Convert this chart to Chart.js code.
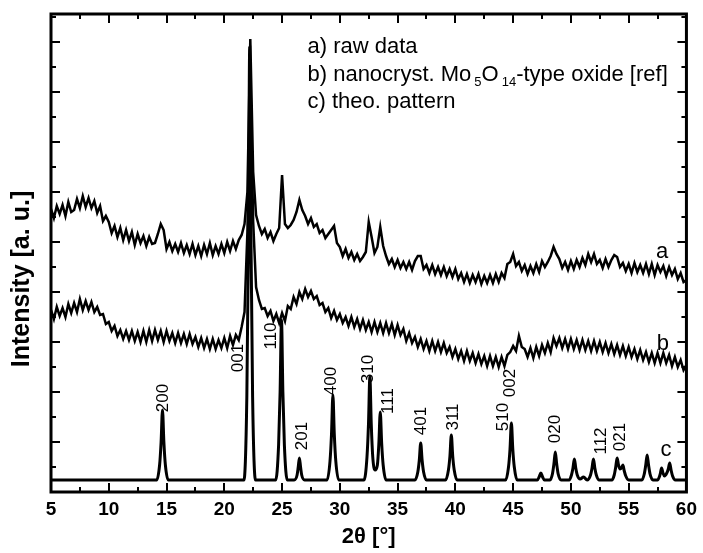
<!DOCTYPE html>
<html>
<head>
<meta charset="utf-8">
<script src="https://cdn.jsdelivr.net/npm/chart.js@4.4.1/dist/chart.umd.min.js"></script>
<style>
  html, body { margin: 0; padding: 0; background: #fff; }
</style>
</head>
<body>
<canvas id="xrd" width="703" height="553"></canvas>
<script>
// sampling of the measured scans (2theta, degrees)
const scanStart = 5
const scanStep = 0.25

// a) raw data, one value per 0.25 deg from 5 to 60
const rawData = [
  283, 274, 286, 278,  287, 276, 290, 280,  282, 293, 284, 296,  285, 294, 284, 291,
  279, 286, 271, 276,  270, 259, 266, 255,  264, 252, 262, 251,  260, 247, 258, 249,
  256, 246, 255, 248,  249, 258, 268, 262,  243, 250, 241, 248,  240, 249, 239, 247,
  238, 248, 237, 246,  236, 247, 238, 249,  237, 246, 238, 248,  239, 250, 241, 251,
  243, 252, 257, 268,  300, 453, 320, 277,  266, 258, 263, 254,  260, 251, 258, 264,
  317, 268, 264, 267,  272, 280, 292, 282,  276, 268, 274, 265,  268, 259, 262, 254,
  258, 262, 266, 249,  245, 236, 243, 234,  240, 232, 238, 231,  235, 240, 270, 255,
  239, 245, 265, 246,  236, 228, 233, 225,  232, 224, 230, 223,  230, 222, 231, 236,
  236, 223, 227, 219,  227, 218, 225, 217,  225, 216, 223, 215,  223, 213, 219, 210,
  218, 209, 217, 210,  218, 208, 216, 209,  217, 209, 218, 210,  219, 214, 228, 230,
  238, 226, 230, 221,  227, 218, 226, 219,  228, 220, 231, 225,  230, 236, 245, 238,
  233, 224, 230, 222,  231, 223, 232, 225,  234, 227, 238, 230,  238, 228, 232, 224,
  233, 225, 232, 237,  235, 225, 229, 221,  228, 219, 229, 220,  227, 219, 228, 218,
  228, 217, 227, 220,  226, 216, 225, 217,  223, 213, 219, 210,  212
]

// b) nanocryst. Mo5O14-type oxide [ref], same sampling
const refData = [
  182, 173, 185, 176,  184, 175, 188, 179,  189, 180, 193, 182,  191, 182, 190, 180,
  185, 177, 178, 168,  170, 161, 166, 156,  162, 153, 161, 152,  161, 151, 160, 150,
  161, 150, 162, 151,  162, 152, 161, 150,  161, 151, 159, 149,  159, 149, 158, 148,
  158, 148, 155, 145,  154, 144, 153, 143,  153, 143, 152, 144,  154, 144, 156, 147,
  157, 152, 165, 180,  260, 420, 270, 205,  192, 183, 184, 176,  181, 171, 178, 169,
  179, 171, 186, 183,  195, 188, 200, 193,  203, 195, 201, 193,  196, 187, 189, 180,
  184, 174, 181, 172,  178, 169, 175, 166,  175, 165, 173, 163,  172, 162, 170, 160,
  170, 160, 169, 159,  169, 159, 168, 157,  167, 157, 163, 151,  159, 149, 155, 145,
  153, 143, 151, 141,  151, 141, 150, 140,  149, 139, 145, 135,  143, 133, 141, 131,
  141, 131, 139, 129,  138, 128, 136, 126,  136, 126, 135, 125,  135, 126, 137, 140,
  146, 141, 156, 145,  143, 135, 144, 134,  145, 136, 147, 139,  149, 140, 154, 146,
  154, 144, 153, 143,  153, 143, 152, 142,  152, 142, 151, 141,  151, 141, 150, 140,
  149, 139, 148, 138,  147, 137, 146, 136,  145, 135, 143, 133,  142, 132, 140, 130,
  139, 129, 139, 129,  139, 129, 137, 126,  135, 125, 132, 122,  127
]

// c) theoretical pattern
const theoX = [
  5, 14.15, 14.4, 14.53, 14.65, 14.77, 14.9, 15.15,
  21.7, 21.95, 22.08, 22.2, 22.32, 22.45, 22.7,
  24.45, 24.7, 24.83, 24.95, 25.07, 25.2, 25.45,
  26.05, 26.3, 26.4, 26.5, 26.6, 26.7, 26.95,
  28.9, 29.15, 29.28, 29.4, 29.52, 29.65, 29.9,
  32.1, 32.35, 32.48, 32.6, 32.72, 32.85, 33.05, 33.25, 33.38, 33.5, 33.62, 33.75, 34.0,
  36.5, 36.75, 36.88, 37.0, 37.12, 37.25, 37.5,
  39.15, 39.4, 39.53, 39.65, 39.77, 39.9, 40.15,
  44.35, 44.6, 44.73, 44.85, 44.97, 45.1, 45.35,
  47.1, 47.25, 47.4, 47.55, 47.7,
  48.2, 48.4, 48.53, 48.65, 48.77, 48.9, 49.15,
  49.85, 50.05, 50.18, 50.3, 50.42, 50.55, 50.8, 51.1, 51.4,
  51.7, 51.83, 51.95, 52.07, 52.2, 52.45,
  53.55, 53.75, 53.88, 54.0, 54.12, 54.25, 54.38, 54.5, 54.62, 54.75, 55.0,
  56.15, 56.35, 56.48, 56.6, 56.72, 56.85, 57.1,
  57.5, 57.65, 57.75, 57.85, 57.97, 58.1, 58.3, 58.43, 58.55, 58.67, 58.8, 59.05, 60
]
const theoY = [
  12, 12, 27, 50, 82, 50, 27, 12,
  12, 95, 240, 445, 240, 95, 12,
  12, 47, 100, 172, 100, 47, 12,
  12, 17, 25, 34, 25, 17, 12,
  12, 31, 58, 97, 58, 31, 12,
  12, 35, 68, 115, 68, 35, 22, 27, 49, 80, 49, 27, 12,
  12, 20, 32, 49, 32, 20, 12,
  12, 22, 36, 57, 36, 22, 12,
  12, 25, 43, 69, 43, 25, 12,
  12, 15, 19, 15, 12,
  12, 18, 28, 40, 28, 18, 12,
  12, 17, 24, 33, 24, 17, 13, 15, 12,
  17, 24, 33, 24, 17, 12,
  12, 17, 25, 34, 27, 23, 24, 27, 21, 16, 12,
  12, 18, 27, 37, 27, 18, 12,
  12, 15, 19, 24, 19, 16, 19, 23, 29, 22, 16, 12, 12
]

// reflex indices, written upwards next to the peaks
const hklText = ["200", "001", "110", "201", "400", "310", "111", "401", "311", "510", "002", "020", "112", "021"]
const hklX = [14.69, 21.2, 24.1, 26.77, 29.26, 32.5, 34.2, 37.06, 39.8, 44.17, 44.77, 48.63, 52.66, 54.29]
const hklY = [94, 134, 156, 56, 111, 123, 91, 71, 75, 75, 109, 63, 51, 55]

// curve tags
const tagText = ["a", "b", "c"]
const tagX = [57.9, 57.97, 58.23]
const tagY = [240, 148, 42]

const fontFamily = "'Liberation Sans', Arial, Helvetica, sans-serif"

function toPoints(values) {
  return values.map((v, i) => ({ x: scanStart + i * scanStep, y: v }))
}

const decorations = {
  id: "decorations",
  afterDatasetsDraw(chart) {
    const { ctx, chartArea: area, scales: { x, y } } = chart
    ctx.save()
    ctx.strokeStyle = "#000"
    ctx.fillStyle = "#000"

    // inward ticks on all four sides
    ctx.lineWidth = 2
    ctx.beginPath()
    for (let v = 7.5; v < 60; v += 2.5) {
      const px = Math.round(x.getPixelForValue(v))
      const len = v % 5 === 0 ? 9 : 5
      ctx.moveTo(px, area.bottom); ctx.lineTo(px, area.bottom - len)
      ctx.moveTo(px, area.top); ctx.lineTo(px, area.top + len)
    }
    for (let v = 25; v < 478; v += 25) {
      const py = Math.round(y.getPixelForValue(v))
      const len = v % 50 === 0 ? 9 : 5
      ctx.moveTo(area.left, py); ctx.lineTo(area.left + len, py)
      ctx.moveTo(area.right, py); ctx.lineTo(area.right - len, py)
    }
    ctx.stroke()

    // frame
    ctx.lineWidth = 3
    ctx.strokeRect(area.left, area.top, area.right - area.left, area.bottom - area.top)

    // reflex labels
    ctx.font = "17px " + fontFamily
    ctx.textAlign = "center"
    ctx.textBaseline = "middle"
    hklText.forEach((t, i) => {
      ctx.save()
      ctx.translate(x.getPixelForValue(hklX[i]), y.getPixelForValue(hklY[i]))
      ctx.rotate(-Math.PI / 2)
      ctx.fillText(t, 0, 0)
      ctx.restore()
    })

    // curve tags
    ctx.font = "22px " + fontFamily
    tagText.forEach((t, i) => {
      ctx.fillText(t, x.getPixelForValue(tagX[i]), y.getPixelForValue(tagY[i]))
    })

    // legend text
    ctx.textAlign = "left"
    ctx.textBaseline = "alphabetic"
    const lx = x.getPixelForValue(27.2)
    ctx.font = "22px " + fontFamily
    ctx.fillText("a) raw data", lx, y.getPixelForValue(439))
    ctx.fillText("c) theo. pattern", lx, y.getPixelForValue(384))
    const parts = [["b) nanocryst. Mo", false], ["5", true], ["O", false], ["14", true], ["-type oxide [ref]", false]]
    let cx = lx
    const by = y.getPixelForValue(411.5)
    parts.forEach(([t, sub]) => {
      ctx.font = (sub ? "13px " : "22px ") + fontFamily
      if (sub) cx += 3
      ctx.fillText(t, cx, sub ? by + 5 : by)
      cx += ctx.measureText(t).width
    })

    // y axis title
    ctx.font = "bold 25px " + fontFamily
    ctx.textAlign = "center"
    ctx.textBaseline = "middle"
    ctx.translate(22, 279)
    ctx.rotate(-Math.PI / 2)
    ctx.fillText("Intensity [a. u.]", 0, 0)
    ctx.restore()
  }
}

new Chart(document.getElementById("xrd"), {
  type: "line",
  data: {
    datasets: [
      {
        label: "a) raw data",
        data: toPoints(rawData),
        borderColor: "#000",
        borderWidth: 2.5,
        pointRadius: 0,
        tension: 0
      },
      {
        label: "b) nanocryst. Mo5O14-type oxide [ref]",
        data: toPoints(refData),
        borderColor: "#000",
        borderWidth: 2.5,
        pointRadius: 0,
        tension: 0
      },
      {
        label: "c) theo. pattern",
        data: theoX.map((v, i) => ({ x: v, y: theoY[i] })),
        borderColor: "#000",
        borderWidth: 3,
        pointRadius: 0,
        cubicInterpolationMode: "monotone"
      }
    ]
  },
  options: {
    responsive: false,
    animation: false,
    devicePixelRatio: 1,
    layout: { padding: { left: 51, top: 14, right: 12, bottom: 0 } },
    plugins: { legend: { display: false }, tooltip: { enabled: false } },
    scales: {
      x: {
        type: "linear",
        min: 5,
        max: 60,
        grid: { display: false, drawTicks: false },
        border: { display: false },
        ticks: {
          stepSize: 5,
          padding: 6,
          maxRotation: 0,
          color: "#000",
          font: { family: fontFamily, size: 19, weight: "bold" }
        },
        title: {
          display: true,
          text: "2θ [°]",
          color: "#000",
          font: { family: fontFamily, size: 22, weight: "bold" },
          padding: { top: 0, bottom: 3 }
        },
        afterFit(scale) { scale.height = 61 }
      },
      y: { type: "linear", min: 0, max: 478, display: false }
    }
  },
  plugins: [decorations]
})
</script>
</body>
</html>
